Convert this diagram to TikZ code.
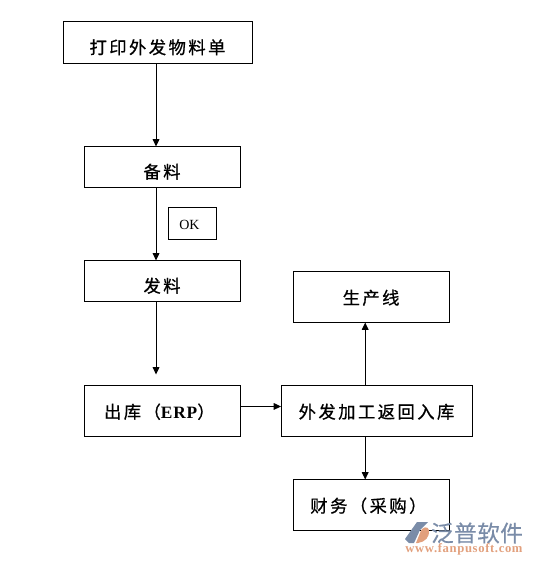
\documentclass[tikz,border=0pt]{standalone}
\usepackage{fontspec}
\newfontfamily\cjk[LetterSpace=14,FakeBold=0.8]{Noto Sans CJK SC}
\newfontfamily\cjklogo[LetterSpace=2,FakeBold=0.5]{Noto Sans CJK SC}
\setmainfont{Liberation Serif}
\newfontfamily\urlfont[LetterSpace=5]{Liberation Serif}
\usetikzlibrary{arrows.meta, positioning}
\definecolor{logoblue}{RGB}{122,140,168}
\definecolor{logoorange}{RGB}{226,160,125}

\begin{document}
\begin{tikzpicture}[
  box/.style={draw, line width=0.75pt, outer sep=0pt, minimum width=117pt, minimum height=30.75pt,
              inner sep=0pt, text height=17pt, text depth=0pt, align=center, font=\cjk\fontsize{13}{15}\selectfont},
  boxt/.style={box, minimum height=38.25pt, text height=11pt},
  arr/.style={-{Triangle[length=5.5pt,width=5pt]}, line width=0.75pt},
  x=0.75pt, y=-0.75pt
]
\useasboundingbox (0,0) rectangle (533,565);
\node[box, minimum width=141.75pt, minimum height=31.5pt] (print) at (157.5,42.5) {打印外发物料单};
\node[box, below=62.25pt of print, xshift=3.4pt] (prep) {备料};
\node[draw, line width=0.75pt, outer sep=0pt, minimum width=36pt, minimum height=24pt, inner sep=0pt, text height=9pt, text depth=0pt, font=\fontsize{10.5}{12}\selectfont,
      below=15pt of prep, xshift=22.5pt] (ok) {\hspace*{-4pt}OK};
\node[box, below=54.75pt of prep] (issue) {发料};
\node[boxt, below=63pt of issue] (out) {\hspace*{-4pt}出库（{\urlfont\bfseries ERP}）};
\node[boxt, minimum width=143.25pt, right=30.75pt of out] (back) {外发加工返回入库};
\node[boxt, above=47.25pt of back, xshift=-4.1pt] (line) {生产线};
\node[boxt, below=32.25pt of back, xshift=-4.1pt] (fin) {\hspace*{-4pt}财务（采购）};
\coordinate[below=54.75pt of issue, xshift=-4.5pt] (outtip);

\draw[arr] ([xshift=-1.1pt]print.south) -- ([xshift=-4.5pt]prep.north);
\draw[arr] ([xshift=-4.5pt]prep.south) -- ([xshift=-4.5pt]issue.north);
\draw[arr] ([xshift=-4.5pt]issue.south) -- (outtip);
\draw[arr] ([yshift=3.4pt]out.east) -- ([yshift=3.4pt]back.west);
\draw[arr] ([xshift=-8.5pt]back.north) -- ([xshift=-4.4pt]line.south);
\draw[arr] ([xshift=-8.5pt]back.south) -- ([xshift=-4.4pt]fin.north);

% watermark
\fill[logoblue] (405,539) -- (417,522) -- (428,522) -- (420,530) -- (414,543) -- (409,543) -- cycle;
\fill[logoorange] (420,533) .. controls (422,526) and (428,526) .. (429,530) .. controls (430,537) and (425,542) .. (418,543) -- (416,543) -- cycle;
\node[text=logoblue, font=\cjklogo\fontsize{17}{17}\selectfont, inner sep=0pt] (logotext) at (477,533) {泛普软件};
\node[text=logoorange, font=\urlfont\bfseries\fontsize{9.5}{10}\selectfont, inner sep=0pt] (logourl) at (464,549.5) {www.fanpusoft.com};
\end{tikzpicture}
\end{document}
